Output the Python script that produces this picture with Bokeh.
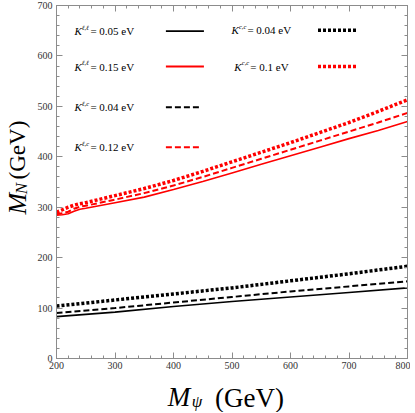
from math import pi
from bokeh.plotting import figure
from bokeh.layouts import row, column
from bokeh.models import FixedTicker, LinearAxis, Label, Range1d, CustomJSTickFormatter
from bokeh.core.properties import value
from bokeh.embed import file_html
from bokeh.resources import INLINE

# ---- data ----
m_psi_red = [200, 210, 220, 230, 240, 250, 300, 350, 400, 450, 500, 550, 600, 650, 700, 750, 800]
mn_red_ll = [284, 285, 287, 292, 296, 298, 309, 320, 335, 351, 368, 385, 402, 419, 436, 452, 470]
mn_red_lc = [286, 288, 291, 297, 301, 303, 315, 328, 343, 360, 378, 396, 414, 432, 450, 468, 487]
mn_red_cc = [290, 295, 300, 304, 307, 309, 323, 337, 353, 371, 390, 409, 428, 448, 468, 490, 513]

m_psi_black = [200, 300, 400, 500, 600, 700, 800]
mn_black_ll = [83, 92, 103, 113, 122, 131, 140]
mn_black_lc = [90, 100, 111, 122, 133, 143, 153]
mn_black_cc = [104, 116, 128, 140, 154, 168, 183]

x_ticks = [200, 300, 400, 500, 600, 700, 800]
y_ticks = [0, 100, 200, 300, 400, 500, 600, 700]

legend_sup = ["ℓ,ℓ", "ℓ,ℓ", "ℓ,c", "ℓ,c", "c,c", "c,c"]
legend_val = ["= 0.05 eV", "= 0.15 eV", "= 0.04 eV", "= 0.12 eV", "= 0.04 eV", "= 0.1 eV"]

SERIF = "Liberation Serif"
RED = "#ff0000"
FRAME = "#8c8c8c"

YLAB_W = 34
P_W, P_H = 376, 376
XLAB_H = 36

p = figure(width=P_W, height=P_H, output_backend="svg", toolbar_location=None,
           x_range=Range1d(200, 800), y_range=Range1d(0, 700),
           min_border_left=54 - YLAB_W, min_border_right=3, min_border_top=5, min_border_bottom=18)
p.xgrid.visible = False
p.ygrid.visible = False
p.outline_line_color = FRAME
p.background_fill_color = "white"


def style_axis(ax, ticks, lo, hi, labels=True):
    ax.ticker = FixedTicker(ticks=ticks, minor_ticks=list(range(lo, hi + 1, 20)))
    ax.major_tick_in = 6
    ax.major_tick_out = 0
    ax.minor_tick_in = 3
    ax.minor_tick_out = 0
    ax.axis_line_color = FRAME
    ax.major_tick_line_color = FRAME
    ax.minor_tick_line_color = FRAME
    ax.major_label_text_font = SERIF
    ax.major_label_text_font_size = "10px"
    ax.major_label_text_color = "#333333"
    ax.major_label_standoff = 4
    if not labels:
        ax.formatter = CustomJSTickFormatter(code="return ''")
        ax.major_label_standoff = 0


style_axis(p.xaxis[0], x_ticks, 200, 800)
style_axis(p.yaxis[0], y_ticks, 0, 700)
p.xaxis[0].major_label_standoff = 3
top_ax = LinearAxis()
right_ax = LinearAxis()
style_axis(top_ax, x_ticks, 200, 800, labels=False)
style_axis(right_ax, y_ticks, 0, 700, labels=False)
p.add_layout(top_ax, "above")
p.add_layout(right_ax, "right")

# ---- curves ----
p.line(m_psi_black, mn_black_ll, line_color="black", line_width=1.6)
p.line(m_psi_black, mn_black_lc, line_color="black", line_width=2, line_dash="6 3")
p.line(m_psi_black, mn_black_cc, line_color="black", line_width=3.5, line_dash="3 2")
p.line(m_psi_red, mn_red_ll, line_color=RED, line_width=1.6)
p.line(m_psi_red, mn_red_lc, line_color=RED, line_width=2, line_dash="6 3")
p.line(m_psi_red, mn_red_cc, line_color=RED, line_width=3.5, line_dash="3 2")

# ---- legend (custom, label then sample) ----
rows = [
    (230.6, 649, 387, 452, "black", 1.8, "solid"),
    (230.6, 579, 387, 452, RED, 1.8, "solid"),
    (230.6, 498, 387, 447, "black", 2, "6 3"),
    (230.6, 419, 387, 447, RED, 2, "6 3"),
    (499, 651, 647, 712, "black", 3.5, "3 2"),
    (504, 579, 647, 712, RED, 3.5, "3 2"),
]
for i, (tx, ty, lx0, lx1, col, lw, dash) in enumerate(rows):
    p.add_layout(Label(x=tx, y=ty, text="K", text_font=SERIF, text_font_style="italic",
                       text_font_size="11px", text_baseline="middle", text_color="black"))
    p.add_layout(Label(x=tx, y=ty, x_offset=7.5, y_offset=4, text=legend_sup[i], text_font=SERIF,
                       text_font_style="italic", text_font_size="6.5px", text_baseline="middle",
                       text_color="black"))
    p.add_layout(Label(x=tx, y=ty, x_offset=16, text=legend_val[i], text_font=SERIF,
                       text_font_size="11px", text_baseline="middle", text_color="black"))
    p.line([lx0, lx1], [ty, ty], line_color=col, line_width=lw, line_dash=dash)


def blank_fig(w, h):
    f = figure(width=w, height=h, output_backend="svg", toolbar_location=None,
               x_range=Range1d(0, w), y_range=Range1d(h, 0),
               x_axis_location=None, y_axis_location=None,
               min_border=0, min_border_left=0, min_border_right=0,
               min_border_top=0, min_border_bottom=0)
    f.xgrid.visible = False
    f.ygrid.visible = False
    f.outline_line_color = None
    return f


def put(f, x, y, s, size, italic=False, angle=0.0):
    f.text(x=[x], y=[y], text=[s], angle=angle, text_font=value(SERIF),
           text_font_style="italic" if italic else "normal", text_font_size=size,
           text_color="black", text_align="center", text_baseline="middle")


# ---- y-axis title: M_N (GeV) ----
ylab = blank_fig(YLAB_W, P_H)
put(ylab, 17, 211, "M", "26px", italic=True, angle=pi / 2)
put(ylab, 21, 195, "N", "17px", italic=True, angle=pi / 2)
put(ylab, 17, 154, "(GeV)", "23px", angle=pi / 2)

# ---- x-axis title: M_psi (GeV) ----
xlab = blank_fig(YLAB_W + P_W, XLAB_H)
put(xlab, 178.5, 396.5 - P_H, "M", "27px", italic=True)
put(xlab, 196.5, 401 - P_H, "ψ", "17px", italic=True)
put(xlab, 249, 397 - P_H, "(GeV)", "27px")

layout = column(row(ylab, p, spacing=0), xlab, spacing=0)
open("out.html", "w").write(file_html(layout, INLINE))
